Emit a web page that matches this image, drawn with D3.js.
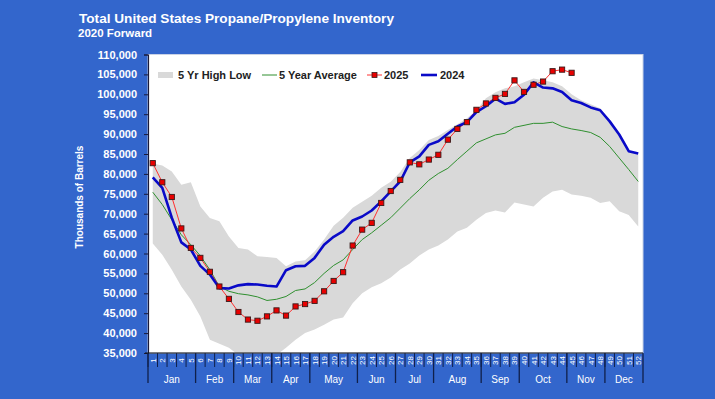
<!DOCTYPE html>
<html>
<head>
<meta charset="utf-8">
<script src="https://cdn.jsdelivr.net/npm/d3@7"></script>
<style>
  body { margin: 0; background: #3366cc; }
  svg { display: block; font-family: "Liberation Sans", Arial, sans-serif; }
</style>
</head>
<body>
<div id="chart"></div>
<script>
// data (thousands of barrels, by week of year)
const weeks = [1,2,3,4,5,6,7,8,9,10,11,12,13,14,15,16,17,18,19,20,21,22,23,24,25,26,
  27,28,29,30,31,32,33,34,35,36,37,38,39,40,41,42,43,44,45,46,47,48,49,50,51,52];

const monthNames = ["Jan","Feb","Mar","Apr","May","Jun","Jul","Aug","Sep","Oct","Nov","Dec"];
const monthFirstWeek = [1, 6, 10, 14, 18, 23, 27, 31, 36, 40, 45, 49];
const monthLastWeek = [5, 9, 13, 17, 22, 26, 30, 35, 39, 44, 48, 52];

const high5 = [82.6,82.1,80.6,77.3,77.9,71.8,68.9,68.1,64.3,61.4,61.0,59.3,59.1,58.9,56.8,58.0,
  58.3,60.5,63.5,67.0,69.0,71.5,73.0,74.5,76.5,78.0,80.5,84.0,86.0,88.5,89.5,91.0,92.5,94.0,
  96.0,99.0,100.5,101.5,102.0,103.0,104.0,103.5,103.0,102.0,100.0,98.5,97.5,96.5,93.5,90.0,85.9,85.2];

const low5 = [62.5,59.7,55.9,51.7,48.4,44.2,38.3,37.3,36.3,34.5,34.0,33.5,33.8,34.5,36.3,38.3,
  40.0,40.9,42.1,43.4,43.9,47.5,50.0,51.5,52.5,54.0,56.0,57.5,59.5,61.0,62.0,63.5,65.5,66.5,
  68.5,70.2,70.8,70.3,72.8,72.3,71.8,74.0,75.6,76.0,74.8,74.5,74.0,72.7,73.1,70.6,69.7,66.8];

const avg5 = [75.4,72.3,68.5,64.7,62.2,59.4,55.9,51.7,50.5,49.9,49.6,49.1,48.2,48.5,49.2,50.7,
  51.1,52.7,55.0,57.0,58.4,61.0,63.5,65.2,67.1,69.0,71.4,73.8,76.0,78.4,80.1,81.4,83.6,85.7,
  87.8,88.8,89.8,90.2,91.7,92.2,92.7,92.7,93.0,91.9,91.3,90.9,90.4,89.2,86.9,84.0,81.1,78.1];

const v2024 = [79.1,76.5,69.0,62.8,61.0,56.9,54.7,51.3,51.2,52.0,52.3,52.2,51.9,51.7,55.8,56.8,
  56.9,58.9,62.2,64.2,65.6,68.3,69.3,70.8,73.1,75.6,78.1,82.9,84.4,87.3,88.2,90.1,91.9,93.0,
  95.5,97.0,98.9,97.6,98.0,99.9,103.0,101.7,101.5,100.6,98.5,97.8,96.7,96.0,93.2,89.9,85.7,85.1];

const v2025 = [82.7,77.9,74.2,66.3,61.4,58.9,55.4,51.7,48.6,45.3,43.4,43.1,44.2,45.7,44.4,46.7,
  47.3,48.1,50.5,53.1,55.3,62.0,66.0,67.7,72.7,75.7,78.5,82.9,82.4,83.6,84.8,88.6,91.3,93.0,
  96.1,97.7,99.1,100.1,103.5,100.6,102.4,103.2,105.8,106.2,105.4];

const yTicks = [35,40,45,50,55,60,65,70,75,80,85,90,95,100,105,110];

// dimensions
const W = 715, H = 399;
const plot = { left: 148, right: 643, top: 54.5, bottom: 353 };

const svg = d3.select("#chart").append("svg").attr("width", W).attr("height", H);

svg.append("rect").attr("width", W).attr("height", H).attr("fill", "#3366cc");

// scales
const x = d3.scaleBand().domain(weeks).range([plot.left, plot.right]).padding(0);
const cx = (w) => x(w) + x.bandwidth() / 2;
const y = d3.scaleLinear().domain([35, 110]).range([plot.bottom, plot.top]);

// plot area
svg.append("rect")
  .attr("x", plot.left).attr("y", plot.top)
  .attr("width", plot.right - plot.left).attr("height", plot.bottom - plot.top)
  .attr("fill", "#ffffff").attr("stroke", "#c9d2e6").attr("stroke-width", 1);

svg.append("clipPath").attr("id", "clip")
  .append("rect")
  .attr("x", plot.left).attr("y", plot.top)
  .attr("width", plot.right - plot.left).attr("height", plot.bottom - plot.top);

const g = svg.append("g").attr("clip-path", "url(#clip)");

// 5 yr band
const band = weeks.map((w, i) => ({ w: w, hi: high5[i], lo: low5[i] }));
g.append("path")
  .datum(band)
  .attr("fill", "#d9d9d9")
  .attr("d", d3.area().x((d) => cx(d.w)).y0((d) => y(d.lo)).y1((d) => y(d.hi)));

// 5 year average
g.append("path")
  .datum(avg5)
  .attr("fill", "none")
  .attr("stroke", "#2f8f2f")
  .attr("stroke-width", 1)
  .attr("d", d3.line().x((d, i) => cx(weeks[i])).y((d) => y(d)));

// 2025
g.append("path")
  .datum(v2025)
  .attr("fill", "none")
  .attr("stroke", "#ff3030")
  .attr("stroke-width", 1)
  .attr("d", d3.line().x((d, i) => cx(weeks[i])).y((d) => y(d)));

// 2024
g.append("path")
  .datum(v2024)
  .attr("fill", "none")
  .attr("stroke", "#0a0ac8")
  .attr("stroke-width", 2.6)
  .attr("stroke-linejoin", "round")
  .attr("d", d3.line().x((d, i) => cx(weeks[i])).y((d) => y(d)));

// 2025 markers
svg.append("g").selectAll("rect")
  .data(v2025)
  .enter()
  .append("rect")
  .attr("x", (d, i) => cx(weeks[i]) - 2.6)
  .attr("y", (d) => y(d) - 2.6)
  .attr("width", 5.2).attr("height", 5.2)
  .attr("fill", "#e80000")
  .attr("stroke", "#3a1a1a")
  .attr("stroke-width", 0.9);

// y axis
const yAxis = svg.append("g")
  .attr("transform", "translate(" + plot.left + ",0)")
  .call(d3.axisLeft(y).tickValues(yTicks).tickSize(4).tickPadding(7)
    .tickFormat((d) => d3.format(",")(d * 1000)));
yAxis.select(".domain").attr("stroke", "#1a1a3a").attr("stroke-width", 1.2);
yAxis.selectAll(".tick line").attr("stroke", "#1a1a3a");
yAxis.selectAll(".tick text")
  .attr("fill", "#ffffff")
  .style("font-size", "11px")
  .style("font-weight", "bold")
  .style("font-family", "'Liberation Sans', Arial, sans-serif");

// x axis: week ticks and labels
const xg = svg.append("g");
xg.append("line")
  .attr("x1", plot.left - 3).attr("x2", plot.right)
  .attr("y1", plot.bottom).attr("y2", plot.bottom)
  .attr("stroke", "#111").attr("stroke-width", 1.2);

xg.selectAll(".wk")
  .data(weeks)
  .enter()
  .append("line")
  .attr("x1", (d) => x(d)).attr("x2", (d) => x(d))
  .attr("y1", plot.bottom).attr("y2", plot.bottom + 14)
  .attr("stroke", "#10204a").attr("stroke-width", 1);

xg.selectAll(".wklab")
  .data(weeks)
  .enter()
  .append("text")
  .attr("transform", (d) => "translate(" + (cx(d) + 3) + "," + (plot.bottom + 7.5) + ") rotate(-90)")
  .attr("text-anchor", "middle")
  .attr("fill", "#ffffff")
  .style("font-size", "8px")
  .text((d) => d);

// month separators and labels
const monthEdges = monthFirstWeek.map((w) => x(w)).concat([plot.right]);
xg.selectAll(".msep")
  .data(monthEdges)
  .enter()
  .append("line")
  .attr("x1", (d) => d).attr("x2", (d) => d)
  .attr("y1", plot.bottom).attr("y2", plot.bottom + 30)
  .attr("stroke", "#10204a").attr("stroke-width", 1.3);

xg.selectAll(".mlab")
  .data(monthNames)
  .enter()
  .append("text")
  .attr("x", (d, i) => (x(monthFirstWeek[i]) + x(monthLastWeek[i]) + x.bandwidth()) / 2)
  .attr("y", plot.bottom + 30)
  .attr("text-anchor", "middle")
  .attr("fill", "#ffffff")
  .style("font-size", "10px")
  .text((d) => d);

// titles
svg.append("text")
  .attr("x", 79).attr("y", 23)
  .attr("fill", "#ffffff")
  .style("font-size", "13.5px").style("font-weight", "bold")
  .attr("textLength", 315).attr("lengthAdjust", "spacingAndGlyphs")
  .text("Total United States Propane/Propylene Inventory");

svg.append("text")
  .attr("x", 78).attr("y", 37)
  .attr("fill", "#ffffff")
  .style("font-size", "11.5px").style("font-weight", "bold")
  .text("2020 Forward");

svg.append("text")
  .attr("transform", "translate(83,197) rotate(-90)")
  .attr("text-anchor", "middle")
  .attr("fill", "#ffffff")
  .style("font-size", "10px").style("font-weight", "bold")
  .text("Thousands of Barrels");

// legend
const lg = svg.append("g").style("font-size", "11px").style("font-weight", "bold");
const ly = 75;
lg.append("rect").attr("x", 158).attr("y", ly - 3).attr("width", 15).attr("height", 6).attr("fill", "#d9d9d9");
lg.append("text").attr("x", 178).attr("y", ly + 4).attr("fill", "#222").text("5 Yr High Low");
lg.append("line").attr("x1", 262).attr("x2", 277).attr("y1", ly).attr("y2", ly)
  .attr("stroke", "#2f8f2f").attr("stroke-width", 1);
lg.append("text").attr("x", 279).attr("y", ly + 4).attr("fill", "#222").text("5 Year Average");
lg.append("line").attr("x1", 367).attr("x2", 382).attr("y1", ly).attr("y2", ly)
  .attr("stroke", "#ff3030").attr("stroke-width", 1);
lg.append("rect").attr("x", 372).attr("y", ly - 2.5).attr("width", 5).attr("height", 5)
  .attr("fill", "#e80000").attr("stroke", "#3a1a1a").attr("stroke-width", 0.8);
lg.append("text").attr("x", 384).attr("y", ly + 4).attr("fill", "#222").text("2025");
lg.append("line").attr("x1", 421).attr("x2", 437).attr("y1", ly).attr("y2", ly)
  .attr("stroke", "#0a0ac8").attr("stroke-width", 2.6);
lg.append("text").attr("x", 440).attr("y", ly + 4).attr("fill", "#222").text("2024");
</script>
</body>
</html>
